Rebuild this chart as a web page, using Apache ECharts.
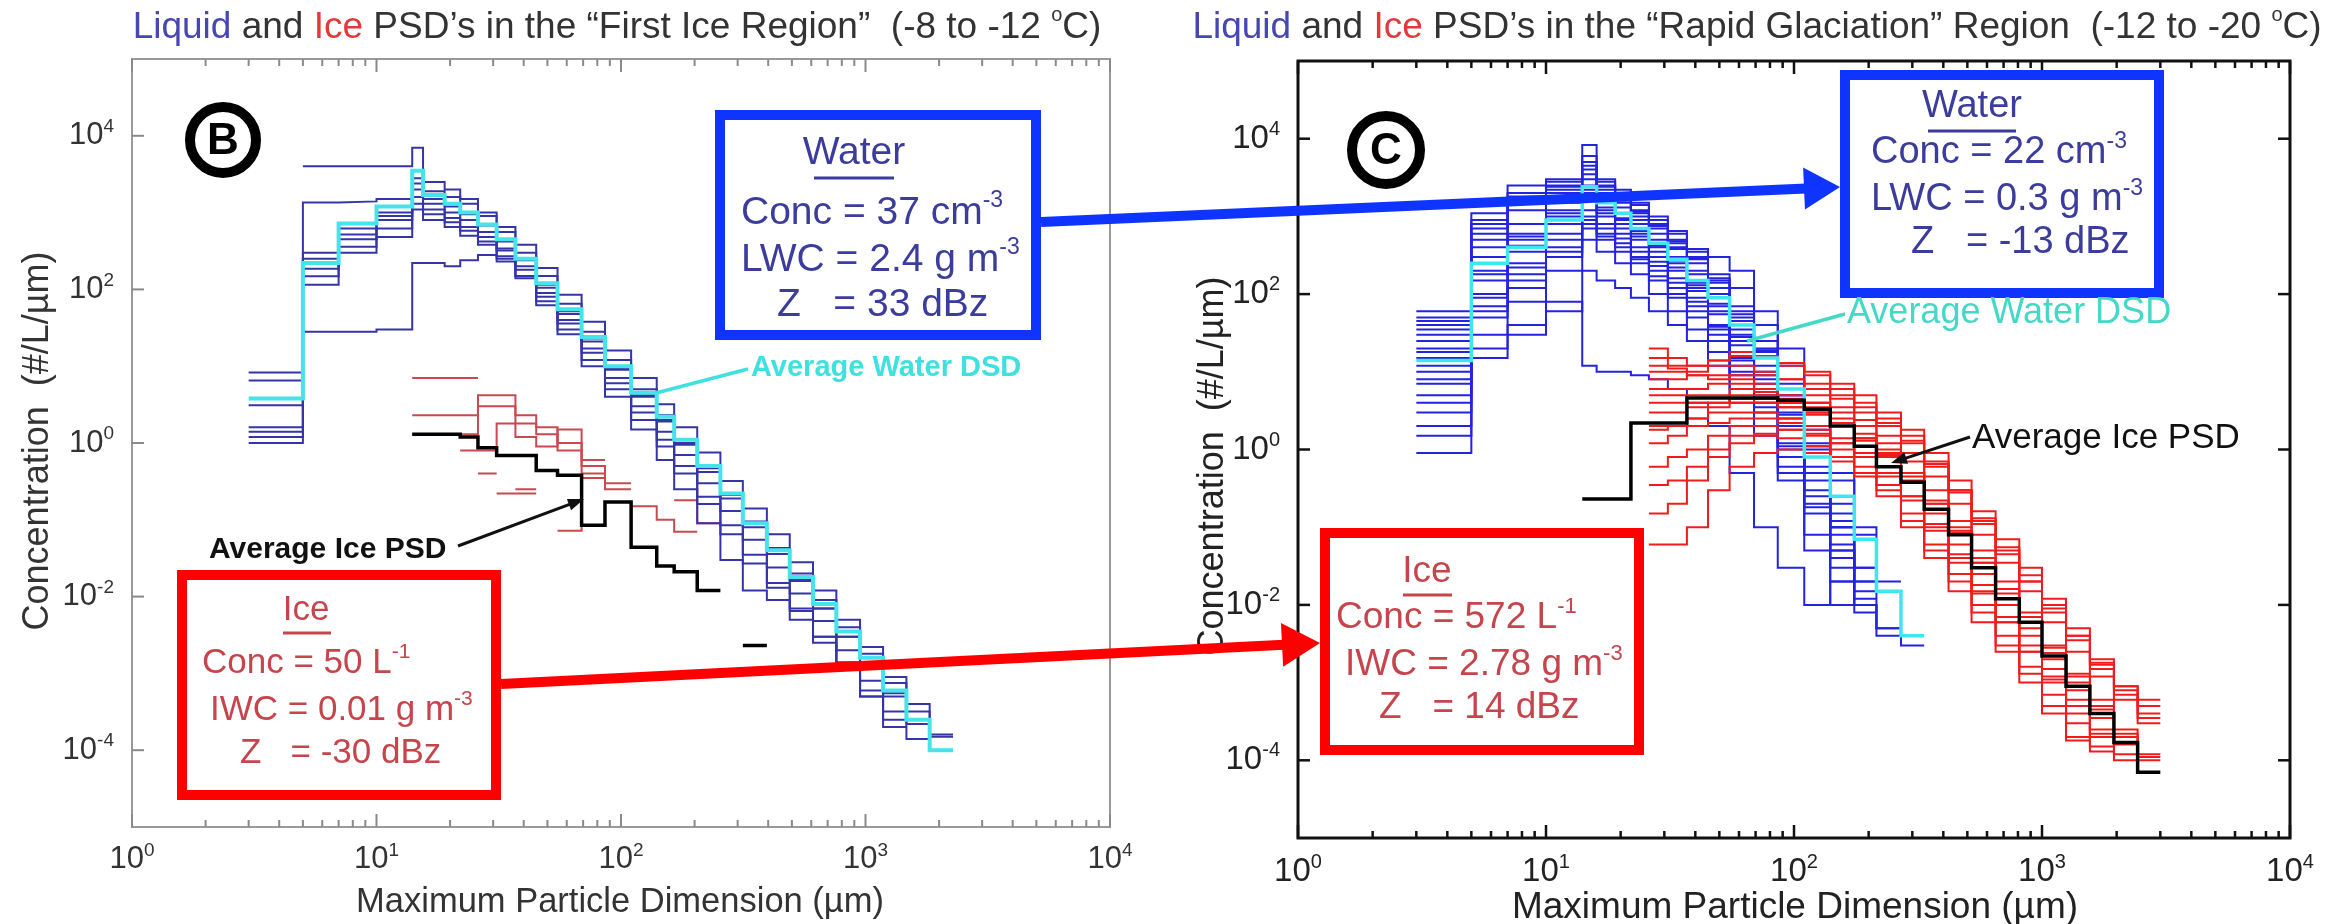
<!DOCTYPE html>
<html><head><meta charset="utf-8">
<script src="https://cdn.jsdelivr.net/npm/echarts@6/dist/echarts.min.js"></script>
<style>html,body{margin:0;padding:0;background:#fff}#c{width:2335px;height:924px}</style>
</head><body><div id="c"></div>
<script>
const _ = null;
// ---------- bin edges (µm) ----------
const leftEdges  = [3, 5, 7, 10, 14, 15.5, 19, 22, 26, 31, 37, 45, 55, 69, 86, 110, 140, 165, 205, 255, 315, 395, 490, 610, 760, 950, 1180, 1470, 1830, 2280];
const rightEdges = [3, 5, 7, 10, 14, 16, 19, 22, 26, 31, 37, 45, 55, 69, 86, 110, 140, 175, 215, 270, 335, 420, 520, 650, 810, 1000, 1250, 1560, 1950, 2430, 3000];

// ---------- left panel (First Ice Region) ----------
const leftWaterAvg = [3.8, 220, 720, 1200, 3500, 1700, 1300, 1000, 700, 450, 250, 120, 55, 24, 10, 4.5, 2.2, 1.1, 0.5, 0.22, 0.09, 0.04, 0.018, 0.008, 0.0035, 0.0016, 6e-4, 2.5e-4, 1e-4];
const leftIceAvg   = [_, _, _, _, 1.3, 1.3, 1.3, 1.2, 0.87, 0.69, 0.69, 0.44, 0.38, 0.085, 0.17, 0.044, 0.025, 0.021, 0.012, _, 0.0023];
const leftWater1 = [_, 4000, 4000, 4000, 7000, 2500, 2000, 1500, 1000, 650, 380, 190, 85, 38, 16, 7, 3.2, 1.6, 0.75, 0.32, 0.14, 0.065, 0.028, 0.012, 0.005, 0.0022, 9e-4, 4e-4, 1.6e-4];
const leftWater2 = [8.3, 1350, 1400, 1500, 2800, 1900, 1600, 1300, 900, 560, 300, 150, 65, 28, 12, 5, 2.3, 1.1, 0.5, 0.22, 0.09, 0.04, 0.017, 0.007, 0.003, 0.0012, 5e-4];
const leftWater3 = [6.5, 300, 620, 1000, 2400, 1500, 1200, 950, 680, 420, 240, 115, 52, 23, 9.5, 4.2, 1.9, 0.95, 0.42, 0.19, 0.08, 0.036, 0.016, 0.007, 0.003, 0.0013, 5.5e-4, 2.2e-4];
const leftWater4 = [3.1, 250, 520, 900, 2000, 1300, 1000, 800, 560, 340, 180, 90, 40, 17, 7, 3, 1.4, 0.7, 0.3, 0.13, 0.055, 0.024, 0.011, 0.0048, 0.002, 8e-4, 3.2e-4, 1.4e-4];
const leftWater5 = [1.6, 186, 450, 800, 1600, 1100, 850, 650, 480, 320, 200, 105, 48, 21, 9, 4, 2, 1, 0.47, 0.21, 0.095, 0.043, 0.02, 0.009, 0.004, 0.0018, 7.5e-4, 3.2e-4, 1.5e-4];
const leftWater6 = [1.4, 148, 360, 620, 1300, 950, 750, 580, 420, 270, 150, 70, 30, 12, 5, 2, 0.9, 0.4, 0.16, 0.065, 0.027, 0.013, 0.0065, 0.003, 0.0014, 6e-4, 2.5e-4];
const leftWater7 = [1.2, 115, 300, 480, 1100, 800, 650, 500, 380, 250, 140, 62, 26, 10, 4, 1.5, 0.6, 0.25, 0.09, 0.03, 0.012, 0.009, 0.005, 0.0025, 0.0012, 5e-4, 2e-4];
const leftWater8 = [1.0, 28, 28, 30, 220, 220, 200, 240, 280, 230, 150, 80, 36, 15, 6, 2.5, 1.1, 0.5, 0.2, 0.085, 0.035, 0.015, 0.007, 0.003, 0.0013, 5e-4];
const leftIce1 = [_, _, _, _, 7, 7, 7, 7];
const leftIce2 = [_, _, _, _, 2.3, 2.3, 2.3, 2.3, 4.2, 4.2, 2.3, 1.3, 1.0, 0.5, 0.3];
const leftIce3 = [_, _, _, _, 1.3, 1.3, 1.3, 1.3, 3.0, 3.0, 1.8, 1.6, 0.8, 0.6];
const leftIce4 = [_, _, _, _, _, _, _, 0.8, 0.8, 1.8, 1.2, 0.9, 1.5, 0.4, 0.25];
const leftIce5 = [_, _, _, _, _, _, _, _, 0.4, _, 0.25, _, 0.072, 0.35, _, 0.15, 0.1, 0.07];
const leftIce6 = [_, _, _, _, _, _, _, _, _, 0.22, 0.22, _, _, _, _, _, _, 0.18, 0.09];

// ---------- right panel (Rapid Glaciation) ----------
const rightWaterAvg = [14, 250, 400, 900, 2400, 1500, 1100, 700, 450, 280, 150, 90, 40, 15, 6, 0.8, 0.25, 0.07, 0.015, 0.004];
const rightIceAvg   = [_, _, _, _, 0.23, 0.23, 0.23, 2.2, 2.2, 2.2, 4.6, 4.6, 4.6, 4.6, 4.3, 3.3, 2.0, 1.1, 0.6, 0.38, 0.17, 0.08, 0.03, 0.012, 0.006, 0.0022, 9e-4, 4e-4, 1.7e-4, 7e-5];
const rightWater1  = [60, 1100, 2500, 3000, 8300, 3000, 2000, 1500, 900, 600, 350, 300, 200, 60, 20, 4, 0.8];
const rightWater2  = [40, 800, 1800, 2500, 5000, 2500, 1800, 1200, 800, 500, 300, 150, 60, 20, 5, 1.0, 0.15, 0.03];
const rightWater3  = [30, 500, 1200, 2000, 3500, 2000, 1500, 1000, 700, 400, 250, 120, 50, 18, 6, 2, 0.5, 0.1, 0.02];
const rightWater4  = [25, 400, 800, 1500, 3000, 1800, 1300, 900, 600, 380, 200, 100, 45, 15, 4, 0.8];
const rightWater5  = [20, 300, 600, 1200, 2500, 1500, 1100, 800, 500, 300, 180, 90, 35, 12, 3, 0.6, 0.1];
const rightWater6  = [15, 200, 500, 1000, 2000, 1200, 900, 600, 400, 250, 130, 70, 28, 9, 2.5, 0.4, 0.08, 0.02, 0.005];
const rightWater7  = [10, 150, 350, 800, 1600, 1000, 700, 500, 300, 200, 110, 55, 22, 7, 2, 0.5, 0.1];
const rightWater8  = [8, 100, 250, 600, 1200, 800, 600, 400, 260, 160, 90, 40, 15, 5, 1.2, 0.3, 0.06, 0.015];
const rightWater9  = [5, 70, 180, 400, 900, 600, 450, 300, 200, 120, 70, 35, 12, 4, 1, 0.2, 0.05, 0.01, 0.004];
const rightWater10 = [3, 50, 120, 300, 700, 500, 350, 250, 150, 90, 50, 25, 9, 3, 0.6, 0.15, 0.03];
const rightWater11 = [2, 30, 80, 200, 500, 350, 250, 180, 100, 60, 35, 18, 6, 2, 0.4, 0.05, 0.01];
const rightWater12 = [1.5, 20, 40, 80, 12, 10, 10, 9, 8, 6, 4, 2, 0.5, 0.1, 0.03, 0.01, 0.02, 0.01, 0.005, 0.003];
const rightWater13 = [0.9, 15, 30, 60, 200, 150, 120, 90, 60, 40, 25, 12, 4, 1.5, 0.5, 0.08, 0.02];
const rightWater14 = [45, 600, 1500, 2200, 4000, 2200, 1600, 1100, 750, 450, 280, 160, 70, 25, 7, 1.8, 0.4, 0.08];
const rightWater15 = [50, 900, 2000, 2800, 6000, 2800, 2200, 1400, 1000, 650, 380, 180, 120, 40, 12, 1.2];
const rightWater16 = [12, 180, 420, 900, 1800, 1100, 800, 550, 350, 220, 120, 60, 25, 8, 2.2, 0.5, 0.12, 0.03];
const rightWater17 = [35, 700, 1600, 2400, 4500, 2400, 1700, 1150, 780, 480, 290, 140, 55, 19, 5, 1.1, 0.2];
const rightWater18 = [18, 250, 550, 1100, 2200, 1300, 950, 650, 420, 270, 140, 75, 30, 10, 2.8, 0.5, 0.1, 0.02];
const rightWater19 = [7, 90, 220, 500, 1000, 700, 520, 350, 230, 140, 80, 38, 14, 4.5, 1.1, 0.25, 0.05, 0.012];
const rightWater20 = [4, 60, 150, 350, 800, 550, 400, 280, 170, 100, 60, 30, 10, 3.5, 0.8, 0.18, 0.04, 0.008];
const rightIce1  = [_, _, _, _, _, _, _, _, 20, 15, 12, 12, 12, 10, 8, 6, 4.5, 3, 2, 1.2, 0.6, 0.3, 0.12, 0.05, 0.02, 0.009, 0.004, 0.0018, 9e-4, 5e-4];
const rightIce2  = [_, _, _, _, _, _, _, _, 10, 10, 9, 9, 8, 7, 6, 5, 3.5, 2.4, 1.5, 0.9, 0.45, 0.2, 0.08, 0.035, 0.015, 0.006, 0.0025, 0.0012, 6e-4, 3e-4];
const rightIce3  = [_, _, _, _, _, _, _, _, 6, 6, 6, 7, 7, 6, 5, 4, 3, 2, 1.2, 0.7, 0.3, 0.12, 0.05, 0.02, 0.008, 0.003, 0.0013, 6e-4, 2.5e-4, 1.2e-4];
const rightIce4  = [_, _, _, _, _, _, _, _, 4, 4, 5, 5, 6, 5.5, 4.5, 3.5, 2.5, 1.6, 1.0, 0.5, 0.2, 0.09, 0.035, 0.012, 0.005, 0.002, 8e-4, 3.5e-4, 1.6e-4];
const rightIce5  = [_, _, _, _, _, _, _, _, 3, 3, 3.5, 4, 4.5, 4, 3.5, 3, 2, 1.3, 0.8, 0.4, 0.15, 0.06, 0.025, 0.01, 0.004, 0.0015, 6e-4, 2.5e-4, 1.2e-4];
const rightIce6  = [_, _, _, _, _, _, _, _, 2, 2, 2.5, 3, 3, 3, 2.5, 2, 1.4, 0.9, 0.5, 0.25, 0.1, 0.04, 0.015, 0.006, 0.0025, 0.001, 4e-4, 1.5e-4];
const rightIce7  = [_, _, _, _, _, _, _, _, 1.2, 1.5, 2, 2.2, 2.5, 2.5, 2.2, 1.8, 1.2, 0.8, 0.45, 0.22, 0.09, 0.035, 0.014, 0.006, 0.0025, 0.0011, 5e-4, 2e-4, 1e-4];
const rightIce8  = [_, _, _, _, _, _, _, _, 0.6, 0.8, 1, 1.5, 2, 2, 1.8, 1.5, 1, 0.6, 0.35, 0.15, 0.06, 0.025, 0.01, 0.004, 0.0016, 7e-4, 3e-4, 1.3e-4];
const rightIce9  = [_, _, _, _, _, _, _, _, 0.35, 0.4, 0.6, 1, 1.5, 1.5, 1.4, 1.1, 0.8, 0.5, 0.3, 0.12, 0.05, 0.02, 0.008, 0.003, 0.0013, 5e-4, 2e-4];
const rightIce10 = [_, _, _, _, _, _, _, _, 0.06, 0.06, 0.1, 0.3, 0.6, 0.9, 1.0, 0.9, 0.7, 0.45, 0.25, 0.1, 0.04, 0.015, 0.006, 0.0025, 0.001, 4e-4, 1.8e-4];
const rightIce11 = [_, _, _, _, _, _, _, _, 8, 8, 10, 14, 18, 16, 13, 10, 7, 5, 3, 1.8, 0.9, 0.4, 0.16, 0.07, 0.03, 0.012, 0.005, 0.002, 9e-4, 6e-4];
const rightIce12 = [_, _, _, _, _, _, _, _, 15, 12, 12, 14, 16, 15, 12, 9, 6, 4, 2.5, 1.5, 0.7, 0.3, 0.13, 0.055, 0.024, 0.01, 0.004, 0.0017, 8e-4, 4e-4];
const rightIce13 = [_, _, _, _, _, _, _, _, 12, 11, 9, 8, 9, 9, 8, 7, 5, 3.5, 2.2, 1.3, 0.65, 0.28, 0.11, 0.045, 0.02, 0.008, 0.0035, 0.0015, 7e-4, 3.5e-4];
const rightIce14 = [_, _, _, _, _, _, _, _, 5, 5, 4, 4, 5, 5, 4, 3, 2.2, 1.4, 0.9, 0.5, 0.22, 0.1, 0.04, 0.016, 0.007, 0.0028, 0.0012, 5e-4, 2.2e-4, 1.1e-4];
const rightIce15 = [_, _, _, _, _, _, _, _, 1.8, 2, 2.5, 3.5, 4, 4, 3.5, 2.8, 2, 1.4, 0.85, 0.45, 0.2, 0.085, 0.035, 0.014, 0.006, 0.0024, 0.001, 4.5e-4, 2e-4, 1e-4];
const rightIce16 = [_, _, _, _, _, _, _, _, 0.15, 0.2, 0.4, 0.8, 1.2, 1.6, 1.8, 1.6, 1.2, 0.8, 0.5, 0.25, 0.11, 0.045, 0.018, 0.007, 0.003, 0.0012, 5e-4, 2.2e-4];

// ---------- axis tick labels ----------
const xTickExponents = [0, 1, 2, 3, 4];
const yTickExponents = [-4, -2, 0, 2, 4];

const F = "'Liberation Sans', Arial, Helvetica, sans-serif";

function steps(edges, vals) {
  const out = [];
  let open = false;
  for (let i = 0; i < edges.length - 1; i++) {
    const v = vals[i];
    if (v == null) { if (open) out.push([edges[i], '-']); open = false; continue; }
    out.push([edges[i], v], [edges[i + 1], v]);
    open = true;
  }
  return out;
}
function stepSeries(edges, vals, gi, color, width, z) {
  return { type: 'line', xAxisIndex: gi, yAxisIndex: gi, data: steps(edges, vals),
    symbol: 'none', showSymbol: false, silent: true, animation: false, clip: true, z: z,
    lineStyle: { color: color, width: width, join: 'miter' } };
}

const series = [];
// left
[leftIce1, leftIce2, leftIce3, leftIce4, leftIce5, leftIce6].forEach(a => series.push(stepSeries(leftEdges, a, 0, '#c9494f', 2, 3)));
[leftWater1, leftWater2, leftWater3, leftWater4, leftWater5, leftWater6, leftWater7, leftWater8].forEach(a => series.push(stepSeries(leftEdges, a, 0, '#3535a8', 2, 4)));
series.push(stepSeries(leftEdges, leftWaterAvg, 0, '#45e3ea', 4, 6));
series.push(stepSeries(leftEdges, leftIceAvg, 0, '#000000', 3.5, 7));
// right
[rightWater1, rightWater2, rightWater3, rightWater4, rightWater5, rightWater6, rightWater7, rightWater8, rightWater9, rightWater10,
 rightWater11, rightWater12, rightWater13, rightWater14, rightWater15, rightWater16, rightWater17, rightWater18, rightWater19, rightWater20]
  .forEach(a => series.push(stepSeries(rightEdges, a, 1, '#2323e0', 2, 3)));
[rightIce1, rightIce2, rightIce3, rightIce4, rightIce5, rightIce6, rightIce7, rightIce8, rightIce9, rightIce10,
 rightIce11, rightIce12, rightIce13, rightIce14, rightIce15, rightIce16]
  .forEach(a => series.push(stepSeries(rightEdges, a, 1, '#f01c1c', 2, 4)));
series.push(stepSeries(rightEdges, rightWaterAvg, 1, '#3ee6ee', 3.5, 6));
series.push(stepSeries(rightEdges, rightIceAvg, 1, '#000000', 3.5, 7));

// tick marks (log minor ticks on x, even decades on y)
const tickData = [];
xTickExponents.forEach(e => {
  if (e < 4) { for (let m = 1; m <= 9; m++) tickData.push([m * Math.pow(10, e), 1, m === 1 ? 1 : 0]); }
  else tickData.push([Math.pow(10, e), 1, 1]);
});
yTickExponents.forEach(e => tickData.push([1, Math.pow(10, e), 2]));
function tickRenderer(color, w, rightTicks) {
  return function (params, api) {
    const cs = params.coordSys;
    const kind = api.value(2);
    const st = { stroke: color, lineWidth: w };
    if (kind < 2) {
      const x = api.coord([api.value(0), 1])[0];
      const len = kind === 1 ? 13 : 7;
      const b = cs.y + cs.height, t = cs.y;
      return { type: 'group', children: [
        { type: 'line', shape: { x1: x, y1: b, x2: x, y2: b - len }, style: st },
        { type: 'line', shape: { x1: x, y1: t, x2: x, y2: t + len }, style: st } ] };
    }
    const y = api.coord([1, api.value(1)])[1];
    const ch = [{ type: 'line', shape: { x1: cs.x, y1: y, x2: cs.x + 12, y2: y }, style: st }];
    if (rightTicks) ch.push({ type: 'line', shape: { x1: cs.x + cs.width, y1: y, x2: cs.x + cs.width - 12, y2: y }, style: st });
    return { type: 'group', children: ch };
  };
}
series.push({ type: 'custom', xAxisIndex: 0, yAxisIndex: 0, data: tickData, renderItem: tickRenderer('#8a8a8a', 2, false), silent: true, animation: false, z: 8 });
series.push({ type: 'custom', xAxisIndex: 1, yAxisIndex: 1, data: tickData, renderItem: tickRenderer('#111', 2.5, true), silent: true, animation: false, z: 8 });

function expLabel(v) { return Math.round(Math.log10(v)); }
function labelRich(color, fs) {
  return { b: { fontSize: fs, fontFamily: F, color: color, lineHeight: fs + 6 },
           s: { fontSize: Math.round(fs * 0.62), fontFamily: F, color: color, verticalAlign: 'top', lineHeight: fs + 6 } };
}
function xAxisDef(gi, color, fs) {
  return { gridIndex: gi, type: 'log', logBase: 10, min: 1, max: 10000,
    axisLine: { show: false }, axisTick: { show: false }, splitLine: { show: false }, minorTick: { show: false },
    axisLabel: { margin: 14, formatter: v => { const e = expLabel(v); return xTickExponents.indexOf(e) >= 0 ? '{b|10}{s|' + e + '}' : ''; }, rich: labelRich(color, fs) } };
}
function yAxisDef(gi, color, fs) {
  return { gridIndex: gi, type: 'log', logBase: 10, min: 1e-5, max: 1e5, interval: 1,
    axisLine: { show: false }, axisTick: { show: false }, splitLine: { show: false }, minorTick: { show: false },
    axisLabel: { margin: 18, formatter: v => { const e = expLabel(v); return yTickExponents.indexOf(e) >= 0 ? '{b|10}{s|' + e + '}' : ''; }, rich: labelRich(color, fs) } };
}

// ---------- annotation helpers ----------
const G = [];
function txt(x, y, text, rich, align, extra) {
  G.push(Object.assign({ type: 'text', x: x, y: y, z: 100,
    style: { text: text, rich: rich, textAlign: align || 'left', textVerticalAlign: 'middle', align: align || 'left', verticalAlign: 'middle', font: '34px ' + F } }, extra || {}));
}
function line(x1, y1, x2, y2, color, w) {
  G.push({ type: 'line', z: 100, shape: { x1, y1, x2, y2 }, style: { stroke: color, lineWidth: w } });
}
function arrow(x1, y1, x2, y2, color, w, len, half) {
  const dx = x2 - x1, dy = y2 - y1, L = Math.hypot(dx, dy), ux = dx / L, uy = dy / L;
  const bx = x2 - ux * len, by = y2 - uy * len;
  line(x1, y1, bx + ux * 2, by + uy * 2, color, w);
  G.push({ type: 'polygon', z: 100, shape: { points: [[x2, y2], [bx - uy * half, by + ux * half], [bx + uy * half, by - ux * half]] }, style: { fill: color } });
}
function box(x, y, w, h, color) {
  G.push({ type: 'rect', z: 99, shape: { x, y, width: w, height: h }, style: { fill: '#fff', stroke: color, lineWidth: 10 } });
}
function circled(cx, cy, r, letter) {
  G.push({ type: 'circle', z: 100, shape: { cx, cy, r }, style: { fill: '#fff', stroke: '#000', lineWidth: 10 } });
  G.push({ type: 'text', z: 101, x: cx, y: cy + 2, style: { text: letter, textAlign: 'center', align: 'center', textVerticalAlign: 'middle', verticalAlign: 'middle', font: 'bold 44px ' + F, fill: '#000' } });
}
function tRich(fs, col) {
  return { t: { fontSize: fs, fontFamily: F, fill: col, color: col, lineHeight: fs + 8 },
           s: { fontSize: Math.round(fs * 0.6), fontFamily: F, fill: col, color: col, verticalAlign: 'top', lineHeight: fs + 8 } };
}
function titleRich(fs) {
  const base = { fontSize: fs, fontFamily: F, lineHeight: fs + 8 };
  return { l: Object.assign({ fill: '#4747b3' }, base), k: Object.assign({ fill: '#333' }, base), r: Object.assign({ fill: '#e3393c' }, base),
           o: { fontSize: Math.round(fs * 0.55), fontFamily: F, fill: '#333', verticalAlign: 'top', lineHeight: fs + 8 } };
}
function plainText(x, y, text, fs, col, rot) {
  G.push({ type: 'text', z: 100, x: x, y: y, rotation: rot || 0,
    style: { text: text, textAlign: 'center', align: 'center', textVerticalAlign: 'middle', verticalAlign: 'middle', font: fs + 'px ' + F, fill: col } });
}

// titles
txt(617, 28, '{l|Liquid}{k| and }{r|Ice}{k| PSD\u2019s in the \u201cFirst Ice Region\u201d  (-8 to -12 }{o|o}{k|C)}', titleRich(37), 'center');
txt(1757, 28, '{l|Liquid}{k| and }{r|Ice}{k| PSD\u2019s in the \u201cRapid Glaciation\u201d Region  (-12 to -20 }{o|o}{k|C)}', titleRich(37), 'center');

// axis names
plainText(620, 902, 'Maximum Particle Dimension (\u00b5m)', 34.5, '#333');
plainText(1795, 908, 'Maximum Particle Dimension (\u00b5m)', 37, '#222');
plainText(38, 441, 'Concentration  (#/L/\u00b5m)', 36, '#333', Math.PI / 2);
plainText(1213, 466, 'Concentration  (#/L/\u00b5m)', 36, '#222', Math.PI / 2);

// circled panel letters
circled(223, 140, 33, 'B');
circled(1386, 150, 34, 'C');

// arrows between panels
arrow(1041, 222, 1840, 187, '#0f34ff', 10, 36, 21);
arrow(501, 684, 1320, 643, '#ff0000', 10, 38, 22);

// boxes
box(720, 115, 316, 220, '#0f34ff');
box(1845, 75, 314, 218, '#0f34ff');
box(182, 575, 314, 220, '#ff0000');
box(1325, 533, 314, 217, '#ff0000');

const BLUE_T = '#3c3c9c', RED_T = '#c6454c';
// left water box
txt(854, 153, '{t|Water}', tRich(39, BLUE_T), 'center');
line(814, 178, 894, 178, BLUE_T, 3);
txt(741, 213, '{t|Conc = 37 cm}{s|-3}', tRich(39, BLUE_T));
txt(741, 260, '{t|LWC = 2.4 g m}{s|-3}', tRich(39, BLUE_T));
txt(777, 305, '{t|Z   = 33 dBz}', tRich(39, BLUE_T));
// right water box
txt(1972, 107, '{t|Water}', tRich(38, BLUE_T), 'center');
line(1928, 131, 2016, 131, BLUE_T, 3);
txt(1871, 153, '{t|Conc = 22 cm}{s|-3}', tRich(38, BLUE_T));
txt(1871, 200, '{t|LWC = 0.3 g m}{s|-3}', tRich(38, BLUE_T));
txt(1911, 243, '{t|Z   = -13 dBz}', tRich(38, BLUE_T));
// left ice box
txt(306, 610, '{t|Ice}', tRich(35, RED_T), 'center');
line(283, 633, 331, 633, RED_T, 3);
txt(202, 663, '{t|Conc = 50 L}{s|-1}', tRich(35, RED_T));
txt(210, 710, '{t|IWC = 0.01 g m}{s|-3}', tRich(35, RED_T));
txt(240, 753, '{t|Z   = -30 dBz}', tRich(35, RED_T));
// right ice box
txt(1427, 572, '{t|Ice}', tRich(37, RED_T), 'center');
line(1403, 595, 1452, 595, RED_T, 3);
txt(1336, 618, '{t|Conc = 572 L}{s|-1}', tRich(37, RED_T));
txt(1345, 665, '{t|IWC = 2.78 g m}{s|-3}', tRich(37, RED_T));
txt(1379, 708, '{t|Z   = 14 dBz}', tRich(37, RED_T));

// curve labels
txt(751, 368, '{t|Average Water DSD}', { t: { fontSize: 29, fontWeight: 'bold', fontFamily: F, fill: '#3fe0e0' } });
line(748, 369, 656, 393, '#3fe0e0', 3.5);
txt(209, 550, '{t|Average Ice PSD}', { t: { fontSize: 30, fontWeight: 'bold', fontFamily: F, fill: '#111' } });
arrow(458, 546, 584, 499, '#111', 3, 16, 6);
txt(1847, 313, '{t|Average Water DSD}', { t: { fontSize: 36, fontFamily: F, fill: '#44d8c6' } });
line(1845, 314, 1747, 341, '#44d8c6', 3.5);
txt(1972, 438, '{t|Average Ice PSD}', { t: { fontSize: 35, fontFamily: F, fill: '#111' } });
arrow(1970, 437, 1891, 463, '#111', 3, 16, 6);

const chart = echarts.init(document.getElementById('c'), null, { renderer: 'canvas' });
chart.setOption({
  animation: false,
  backgroundColor: '#ffffff',
  grid: [
    { left: 132, top: 59, width: 978, height: 768, show: true, borderColor: '#9a9a9a', borderWidth: 2, backgroundColor: 'transparent' },
    { left: 1298, top: 61, width: 992, height: 777, show: true, borderColor: '#111', borderWidth: 3, backgroundColor: 'transparent' }
  ],
  xAxis: [xAxisDef(0, '#333', 31), xAxisDef(1, '#222', 33)],
  yAxis: [yAxisDef(0, '#333', 31), yAxisDef(1, '#222', 33)],
  series: series,
  graphic: { elements: G }
});
</script></body></html>
